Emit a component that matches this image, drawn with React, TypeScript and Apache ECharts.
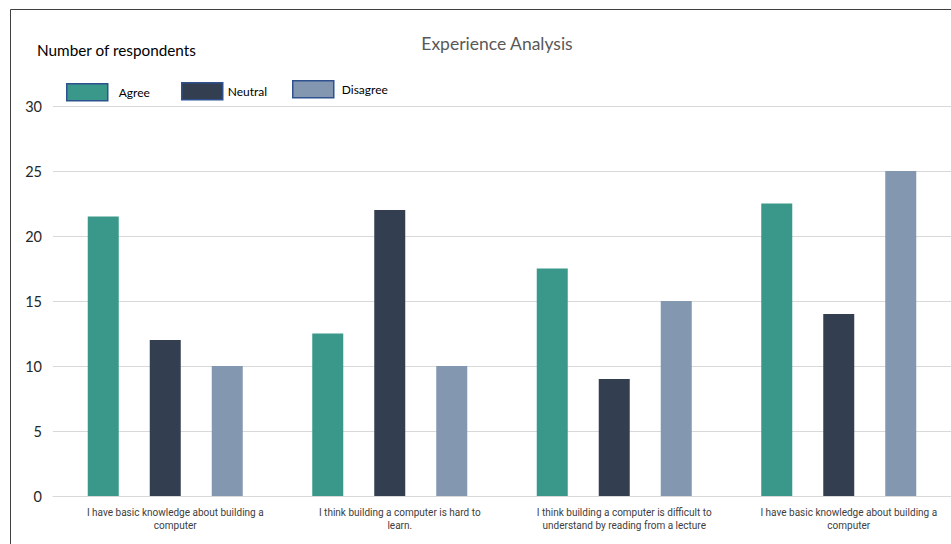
import React, { useEffect, useRef } from "react";
import * as echarts from "echarts";

const categories = [
  "I have basic knowledge about building a\ncomputer",
  "I think building a computer is hard to\nlearn.",
  "I think building a computer is difficult to\nunderstand by reading from a lecture",
  "I have basic knowledge about building a\ncomputer",
];
const agree = [21.5, 12.5, 17.5, 22.5];
const neutral = [12, 22, 9, 14];
const disagree = [10, 10, 15, 25];
const yTicks = { min: 0, max: 30, interval: 5 };

const COLORS = { agree: "#3A988A", neutral: "#333F50", disagree: "#8497B0" };

export default function App() {
  const ref = useRef<HTMLDivElement>(null);
  useEffect(() => {
    if (!ref.current) return;
    const chart = echarts.init(ref.current, undefined, { renderer: "svg" });
    const legendBase = {
      orient: "horizontal",
      padding: 0,
      itemWidth: 41,
      itemHeight: 17,
      icon: "rect",
      itemStyle: { borderColor: "#2F528F", borderWidth: 1.5 },
      textStyle: { fontFamily: "Lato", fontSize: 12, color: "#000" },
      selectedMode: false,
    };
    chart.setOption({
      animation: false,
      backgroundColor: "#fff",
      title: {
        text: "Experience Analysis",
        left: 492,
        textAlign: "center",
        top: 29,
        textStyle: { fontFamily: "Lato", fontSize: 17.5, fontWeight: "normal", color: "#595959" },
      },
      graphic: [
        {
          type: "rect",
          shape: { x: 10.5, y: 9.5, width: 980, height: 600 },
          style: { fill: "none", stroke: "#404040", lineWidth: 1 },
          silent: true,
        },
        {
          type: "text",
          left: 37,
          top: 42,
          style: { text: "Number of respondents", fontFamily: "Lato", fontSize: 15.3, fill: "#000" },
        },
      ],
      legend: [
        { ...legendBase, left: 66, top: 83, data: [{ name: "Agree", textStyle: { padding: [0, 0, 0, 6] } }] },
        { ...legendBase, left: 181, top: 82, data: [{ name: "Neutral" }] },
        { ...legendBase, left: 292, top: 80, data: [{ name: "Disagree", textStyle: { padding: [0, 0, 0, 3] } }] },
      ],
      grid: { left: 53, right: -4, top: 106, bottom: 48, containLabel: false },
      xAxis: {
        type: "category",
        data: categories,
        axisLine: { show: true, lineStyle: { color: "#D9D9D9", width: 1 } },
        axisTick: { show: false },
        axisLabel: {
          interval: 0,
          margin: 10,
          fontFamily: "Roboto",
          fontSize: 10,
          lineHeight: 13,
          color: "#404040",
          padding: [0, 0, 0, 20],
        },
      },
      yAxis: {
        type: "value",
        min: yTicks.min,
        max: yTicks.max,
        interval: yTicks.interval,
        axisLine: { show: false },
        axisTick: { show: false },
        splitLine: { lineStyle: { color: "#D9D9D9", width: 1 } },
        axisLabel: { margin: 11, fontFamily: "Lato", fontSize: 14.5, color: "#262626" },
      },
      series: [
        { name: "Agree", type: "bar", data: agree, barWidth: 31, barGap: "100%", itemStyle: { color: COLORS.agree } },
        { name: "Neutral", type: "bar", data: neutral, barWidth: 31, barGap: "100%", itemStyle: { color: COLORS.neutral } },
        { name: "Disagree", type: "bar", data: disagree, barWidth: 31, barGap: "100%", itemStyle: { color: COLORS.disagree } },
      ],
    });
    return () => chart.dispose();
  }, []);
  return (
    <div
      ref={ref}
      style={{ position: "fixed", left: 0, top: 0, width: 951, height: 544 }}
    />
  );
}
